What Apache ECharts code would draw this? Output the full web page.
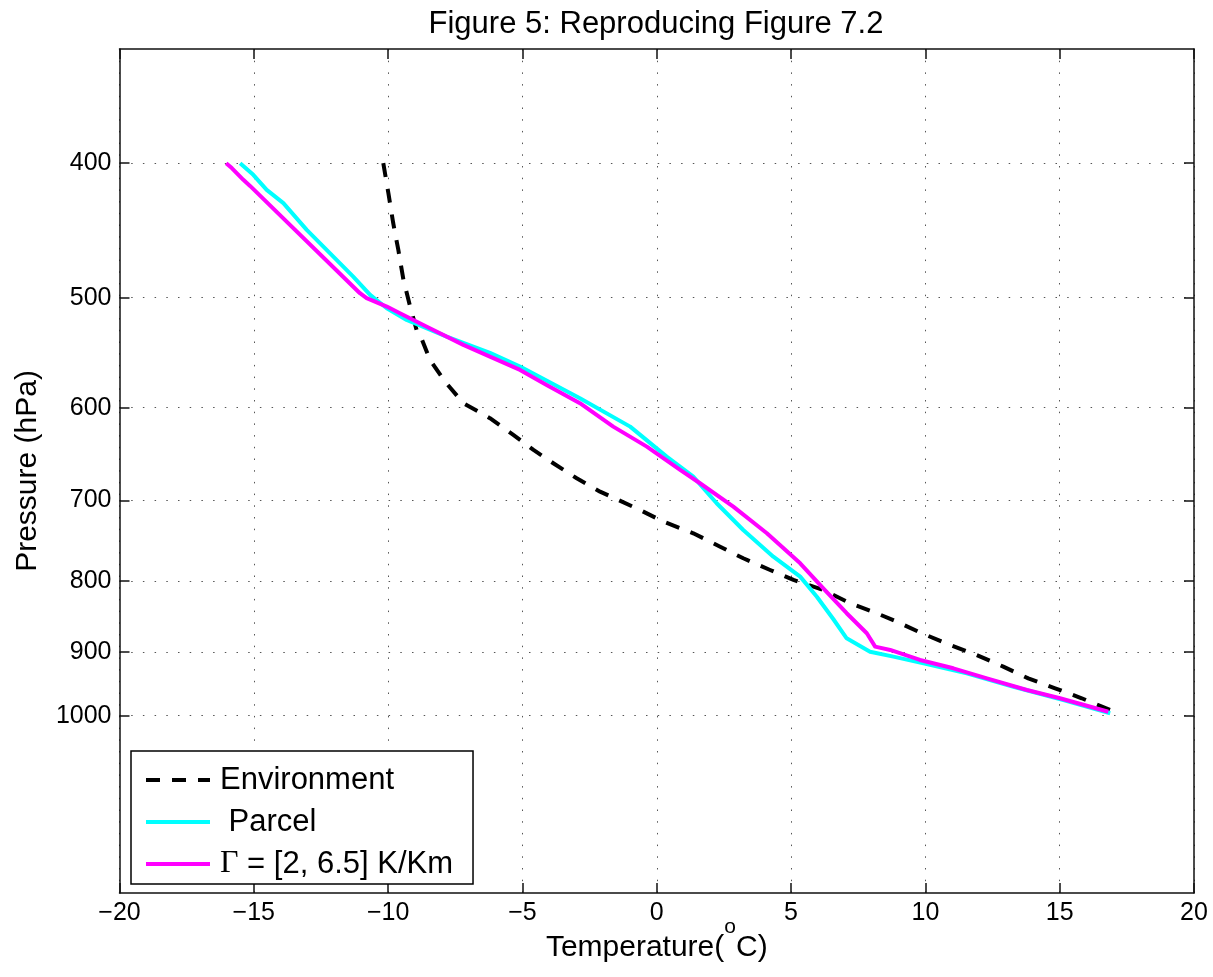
<!DOCTYPE html>
<html><head><meta charset="utf-8">
<script src="https://cdn.jsdelivr.net/npm/echarts@6/dist/echarts.min.js"></script>
<style>html,body{margin:0;padding:0;background:#fff}#c{width:1213px;height:977px}</style>
</head><body><div id="c"></div>
<script>
// ---- data (temperature in °C, pressure in hPa) ----
const envT = [-10.18, -9.99, -9.81, -9.62, -9.43, -9.18, -8.94, -8.81, -8.44, -7.88, -7.20, -6.21, -5.34, -4.59, -3.85, -2.98, -2.11, -0.62, 0.25, 1.36, 2.36, 3.22, 4.22, 5.09, 6.20, 7.20, 8.19, 8.94, 9.87, 10.92, 11.91, 12.90, 13.83, 14.83, 15.82, 16.88, 17.05];
const envP = [400, 420.4, 441.9, 461.9, 485.4, 507.4, 527.5, 531.8, 554.4, 574.7, 595.6, 610.6, 627.8, 643.6, 658.0, 674.6, 689.7, 711.0, 724.9, 739.0, 755.6, 770.3, 785.4, 798.5, 811.9, 830.0, 843.8, 855.7, 872.3, 889.4, 904.3, 922.0, 940.0, 955.6, 971.6, 990.6, 996];

const parcelT = [-15.51, -15.02, -14.52, -13.90, -13.03, -12.04, -11.30, -10.67, -10.05, -9.31, -7.82, -6.21, -5.09, -2.86, -0.99, 0.37, 1.36, 2.23, 3.22, 4.34, 5.34, 5.96, 6.57, 7.07, 7.94, 8.81, 9.93, 11.54, 13.28, 15.14, 16.88];
const parcelP = [400, 407.8, 418.1, 427.4, 446.8, 467.1, 482.8, 497.7, 508.8, 518.8, 533.4, 547.9, 560.5, 590.7, 619.2, 650.8, 672.8, 703.1, 735.0, 768.2, 794.1, 821.0, 851.9, 879.6, 899.4, 906.8, 916.9, 932.2, 953.2, 974.4, 996];

const gammaT = [-16.03, -15.82, -15.39, -15.14, -11.05, -10.80, -10.05, -9.56, -8.56, -7.20, -6.21, -5.09, -4.10, -2.86, -1.62, -0.37, 0.87, 1.61, 2.85, 4.10, 5.34, 6.20, 7.07, 7.82, 8.13, 8.69, 9.80, 11.04, 12.29, 13.78, 15.01, 16.81];
const gammaP = [400, 403.3, 411.2, 415.4, 496.3, 500.4, 507.4, 513.0, 524.6, 540.7, 551.3, 563.6, 577.8, 595.6, 619.2, 640.1, 665.3, 680.2, 707.1, 739.0, 776.7, 809.6, 843.8, 872.3, 891.9, 896.8, 911.8, 924.5, 940.0, 958.4, 971.6, 993.5];

const seriesNames = ['Environment', ' Parcel', 'Γ = [2, 6.5] K/Km'];
const pressureTicks = [400, 500, 600, 700, 800, 900, 1000];
const pressureRange = [331, 1342];
const tempRange = [-20, 20];
const tempStep = 5;

// ---- build ----
const FONT = '"Liberation Sans", Arial, Helvetica, sans-serif';
const lg = v => Math.log10(v);
const pair = (T, P) => T.map((t, i) => [t, lg(P[i])]);
const pTickVals = pressureTicks.map(lg);
const gridLine = { show: true, lineStyle: { color: '#555', width: 1, type: [1.5, 10.2] } };
const axLine = { show: true, onZero: false, lineStyle: { color: '#111', width: 1.5 } };

const chart = echarts.init(document.getElementById('c'), null, { renderer: 'canvas' });
chart.setOption({
  animation: false,
  backgroundColor: '#fff',
  title: {
    text: 'Figure 5: Reproducing Figure 7.2',
    left: 651, top: 4, textAlign: 'center',
    textStyle: { fontFamily: FONT, fontSize: 31, fontWeight: 'normal', color: '#000' }
  },
  grid: { left: 119.5, right: 19, top: 49, bottom: 84, containLabel: false, outerBoundsMode: 'none' },
  legend: {
    orient: 'vertical', left: 131, top: 751,
    selectedMode: false,
    itemWidth: 64, itemHeight: 14, itemGap: 8,
    padding: [12, 20, 3, 13],
    backgroundColor: '#fff', borderColor: '#000', borderWidth: 1.5,
    lineStyle: { width: 4 },
    itemStyle: { opacity: 0 },
    textStyle: { fontFamily: FONT, fontSize: 31, lineHeight: 34, color: '#000', padding: [0, 0, 0, 5],
      rich: { g: { fontFamily: '"Liberation Serif", "Times New Roman", serif', fontSize: 32, color: '#000' } } },
    formatter: n => n.charAt(0) === 'Γ' ? '{g|Γ}' + n.slice(1) : n,
    data: seriesNames
  },
  xAxis: [{
    type: 'value', min: tempRange[0], max: tempRange[1], interval: tempStep,
    position: 'bottom',
    axisLine: axLine,
    axisTick: { show: true, inside: true, length: 10, lineStyle: { color: '#111', width: 1.5 } },
    axisLabel: { fontFamily: FONT, fontSize: 25, color: '#000', margin: 8,
      formatter: v => v < 0 ? '\u2212' + (-v) : String(v) },
    splitLine: gridLine,
    name: '{a|Temperature(}{s|o}{a|C)}',
    nameLocation: 'middle', nameGap: 24, nameMoveOverlap: false,
    nameTextStyle: { fontFamily: FONT, fontSize: 30, color: '#000',
      rich: { a: { fontFamily: FONT, fontSize: 30, color: '#000', verticalAlign: 'bottom' },
              s: { fontFamily: FONT, fontSize: 21, color: '#000', verticalAlign: 'bottom', padding: [0, 0, 25, 0] } } }
  }, {
    type: 'value', min: tempRange[0], max: tempRange[1], interval: tempStep,
    position: 'top',
    axisLine: axLine,
    axisTick: { show: true, inside: true, length: 10, lineStyle: { color: '#111', width: 1.5 } },
    axisLabel: { show: false },
    splitLine: { show: false }
  }],
  yAxis: [{
    type: 'value', inverse: true, min: lg(pressureRange[0]), max: lg(pressureRange[1]),
    position: 'left',
    axisLine: axLine,
    axisTick: { show: true, inside: true, length: 10, customValues: pTickVals, lineStyle: { color: '#111', width: 1.5 } },
    axisLabel: { fontFamily: FONT, fontSize: 25, color: '#000', margin: 8, customValues: pTickVals,
      formatter: v => String(Math.round(Math.pow(10, v))) },
    splitLine: gridLine,
    name: 'Pressure (hPa)', nameLocation: 'middle', nameGap: 77, nameMoveOverlap: false,
    nameTextStyle: { fontFamily: FONT, fontSize: 30, color: '#000' }
  }, {
    type: 'value', inverse: true, min: lg(pressureRange[0]), max: lg(pressureRange[1]),
    position: 'right',
    axisLine: axLine,
    axisTick: { show: true, inside: true, length: 10, customValues: pTickVals, lineStyle: { color: '#111', width: 1.5 } },
    axisLabel: { show: false, customValues: pTickVals },
    splitLine: { show: false }
  }],
  series: [
    { name: seriesNames[0], type: 'line', data: pair(envT, envP), symbol: 'none', showSymbol: false,
      lineStyle: { color: '#000', width: 4, type: [14, 12], join: 'round' }, itemStyle: { color: '#000' },
      emphasis: { disabled: true }, z: 3 },
    { name: seriesNames[1], type: 'line', data: pair(parcelT, parcelP), symbol: 'none', showSymbol: false,
      lineStyle: { color: '#00FFFF', width: 4, join: 'round' }, itemStyle: { color: '#00FFFF' },
      emphasis: { disabled: true }, z: 4 },
    { name: seriesNames[2], type: 'line', data: pair(gammaT, gammaP), symbol: 'none', showSymbol: false,
      lineStyle: { color: '#FF00FF', width: 4, join: 'round' }, itemStyle: { color: '#FF00FF' },
      emphasis: { disabled: true }, z: 5 }
  ]
});
</script>
</body></html>
